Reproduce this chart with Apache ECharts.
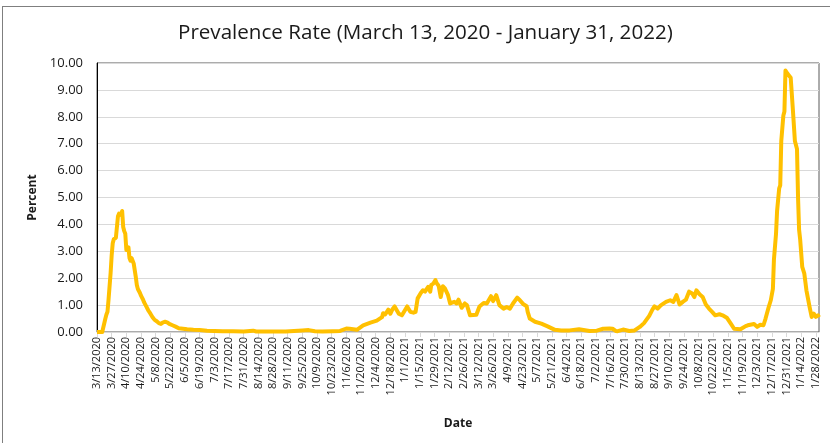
<!DOCTYPE html>
<html>
<head>
<meta charset="utf-8">
<script src="https://cdn.jsdelivr.net/npm/echarts@6/dist/echarts.min.js"></script>
<style>
  html, body { margin: 0; padding: 0; background: #fff; }
  #chart { width: 830px; height: 443px; }
</style>
</head>
<body>
<div id="chart"></div>
<script>
// date range of the daily axis
const startDate = '2020-03-13';
const dayCount = 690; // 3/13/2020 .. 1/31/2022

// readings: day offset from 3/13/2020 and percent
const pointDays = [
  0, 5, 6, 8, 9, 10, 11, 12, 13, 14, 15, 16, 17, 18, 19, 20, 21, 22, 23, 24,
  25, 26, 27, 28, 29, 30, 31, 32, 33, 34, 35, 36, 37, 38, 39, 40, 41, 42, 43, 44,
  45, 47, 49, 51, 53, 55, 57, 59, 61, 63, 65, 67, 69, 72, 75, 78, 82, 86, 92, 98,
  105, 112, 120, 130, 140, 149, 152, 160, 170, 180, 188, 196, 202, 208, 215, 225, 232, 238, 241, 248,
  254, 261, 267, 272, 273, 275, 278, 280, 282, 284, 288, 291, 293, 296, 299, 302, 304, 306, 309, 311,
  313, 316, 318, 319, 321, 323, 324, 326, 328, 330, 332, 333, 335, 337, 341, 343, 345, 348, 351, 353,
  356, 362, 365, 369, 372, 376, 378, 381, 384, 388, 391, 394, 397, 401, 403, 407, 410, 411, 413, 418,
  424, 430, 437, 443, 451, 460, 470, 477, 483, 489, 492, 495, 497, 502, 508, 513, 518, 522, 527, 530,
  532, 535, 538, 543, 547, 550, 553, 556, 559, 562, 565, 568, 570, 572, 575, 578, 581, 584, 587, 590,
  594, 597, 601, 605, 608, 614, 619, 621, 627, 630, 633, 636, 638, 641, 643, 645, 646, 648, 649, 651,
  652, 653, 655, 656, 657, 659, 660, 662, 664, 666, 668, 669, 670, 671, 673, 675, 677, 680, 682, 684,
  686, 688, 689
];
const pointValues = [
  0, 0, 0.02, 0.5, 0.65, 0.75, 1.2, 1.7, 2.2, 2.85, 3.3, 3.45, 3.4, 3.5, 3.9, 4.3, 4.4, 4.47, 4.35, 4.5,
  3.9, 3.75, 3.65, 3.05, 3.1, 3.15, 2.75, 2.65, 2.75, 2.7, 2.55, 2.3, 2.05, 1.75, 1.6, 1.55, 1.45, 1.35, 1.3, 1.2,
  1.1, 0.95, 0.8, 0.68, 0.55, 0.45, 0.4, 0.33, 0.3, 0.36, 0.38, 0.36, 0.3, 0.25, 0.2, 0.14, 0.12, 0.1, 0.08, 0.07,
  0.05, 0.04, 0.03, 0.03, 0.02, 0.05, 0.02, 0.02, 0.02, 0.02, 0.04, 0.06, 0.07, 0.03, 0.02, 0.03, 0.04, 0.13, 0.12, 0.08,
  0.25, 0.35, 0.42, 0.55, 0.7, 0.65, 0.83, 0.68, 0.85, 0.95, 0.68, 0.62, 0.75, 0.95, 0.75, 0.72, 0.75, 1.25, 1.45, 1.55,
  1.5, 1.68, 1.5, 1.75, 1.8, 1.93, 1.82, 1.72, 1.3, 1.7, 1.62, 1.68, 1.37, 1.06, 1.12, 1.06, 1.2, 0.9, 1.06, 1.0,
  0.62, 0.64, 0.95, 1.08, 1.06, 1.33, 1.15, 1.37, 1.0, 0.87, 0.93, 0.87, 1.06, 1.28, 1.2, 1.03, 0.96, 0.75, 0.5, 0.38,
  0.31, 0.21, 0.08, 0.06, 0.06, 0.1, 0.04, 0.05, 0.12, 0.13, 0.12, 0.04, 0.03, 0.09, 0.04, 0.06, 0.19, 0.33, 0.6, 0.83,
  0.95, 0.87, 0.99, 1.12, 1.18, 1.12, 1.37, 1.02, 1.12, 1.2, 1.5, 1.43, 1.3, 1.55, 1.4, 1.3, 1.02, 0.87, 0.75, 0.62,
  0.66, 0.62, 0.53, 0.3, 0.12, 0.1, 0.22, 0.25, 0.3, 0.19, 0.27, 0.25, 0.5, 0.93, 1.18, 1.6, 2.7, 3.66, 4.5, 5.34,
  5.45, 7.1, 8.05, 8.2, 9.72, 9.6, 9.55, 9.45, 8.3, 7.1, 6.8, 5.0, 3.8, 3.45, 2.42, 2.17, 1.55, 0.93, 0.56, 0.68,
  0.56, 0.62, 0.55
];
const yTicks = [0, 10, 1]; // min, max, step

// daily category labels, M/D/YYYY
const categories = [];
const d0 = new Date(startDate + 'T00:00:00Z');
for (let i = 0; i < dayCount; i++) {
  const d = new Date(d0.getTime() + i * 86400000);
  categories.push((d.getUTCMonth() + 1) + '/' + d.getUTCDate() + '/' + d.getUTCFullYear());
}
const seriesData = pointDays.map((day, i) => [day, pointValues[i]]);

const chart = echarts.init(document.getElementById('chart'), null, { renderer: 'canvas' });

const option = {
  backgroundColor: '#ffffff',
  animation: false,
  title: {
    text: 'Prevalence Rate (March 13, 2020 - January 31, 2022)',
    left: 173, top: 18,
    textStyle: { color: '#1a1a1a', fontSize: 20.6, fontWeight: 'normal', fontFamily: 'Open Sans' }
  },
  graphic: [
    { type: 'line', shape: { x1: 2.5, y1: 6, x2: 2.5, y2: 443 }, style: { stroke: '#7f7f7f', lineWidth: 1 } },
    { type: 'line', shape: { x1: 2, y1: 6.5, x2: 830, y2: 6.5 }, style: { stroke: '#7f7f7f', lineWidth: 1 } }
  ],
  grid: {
    left: 97, right: 11, top: 63, bottom: 111,
    show: true, borderColor: '#595959', borderWidth: 1, backgroundColor: 'transparent'
  },
  xAxis: {
    type: 'category',
    data: categories,
    boundaryGap: false,
    name: 'Date',
    nameLocation: 'middle',
    nameGap: 86,
    nameTextStyle: { color: '#1a1a1a', fontSize: 12, fontWeight: 'bold', fontFamily: 'Open Sans' },
    axisLine: { lineStyle: { color: '#d9d9d9', width: 1 } },
    axisTick: { show: true, interval: 13, length: 5, lineStyle: { color: '#d9d9d9' } },
    axisLabel: {
      interval: 13, rotate: 90, color: '#1a1a1a', fontSize: 11, margin: 5,
      fontFamily: 'Open Sans'
    },
    splitLine: { show: false }
  },
  yAxis: {
    type: 'value',
    min: yTicks[0], max: yTicks[1], interval: yTicks[2],
    name: 'Percent',
    nameLocation: 'middle',
    nameGap: 56,
    nameTextStyle: { color: '#1a1a1a', fontSize: 12, fontWeight: 'bold', fontFamily: 'Open Sans' },
    axisLine: { show: true, lineStyle: { color: '#000000', width: 1 } },
    axisTick: { show: false },
    axisLabel: {
      color: '#1a1a1a', fontSize: 13, margin: 14, fontFamily: 'Open Sans',
      formatter: v => v.toFixed(2)
    },
    splitLine: { lineStyle: { color: '#d9d9d9', width: 1 } }
  },
  series: [
    {
      type: 'line',
      data: seriesData,
      showSymbol: false,
      symbol: 'none',
      smooth: false,
      lineStyle: { color: '#ffc000', width: 4, join: 'round' },
      itemStyle: { color: '#ffc000' }
    }
  ]
};

chart.setOption(option);
</script>
</body>
</html>
